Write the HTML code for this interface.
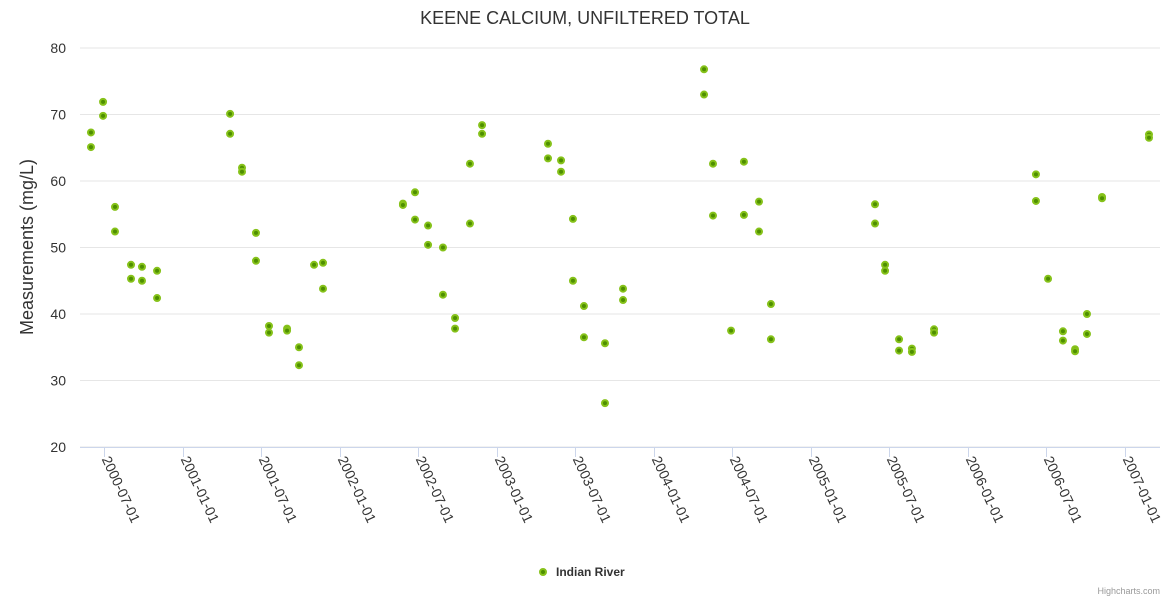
<!DOCTYPE html>
<html><head><meta charset="utf-8"><style>
body{margin:0;background:#fff;font-family:"Liberation Sans",sans-serif}
</style></head><body>
<svg id="chart" width="1170" height="600" xmlns="http://www.w3.org/2000/svg">
<text x="585" y="24" text-anchor="middle" font-size="18" fill="#333">KEENE CALCIUM, UNFILTERED TOTAL</text>
<text transform="translate(33,247) rotate(-90)" text-anchor="middle" font-size="18" fill="#333">Measurements (mg/L)</text>
<g id="grid"></g><g id="xaxis"></g><g id="pts"></g>
<g>
<circle cx="543" cy="572" r="3" fill="#4e8f00" stroke="#86c21a" stroke-width="2"/>
<text x="556" y="576" font-size="12" font-weight="bold" fill="#333">Indian River</text>
</g>
<text x="1160" y="594" text-anchor="end" font-size="9" fill="#999">Highcharts.com</text>
</svg>
<script>
const yTicks=[20,30,40,50,60,70,80];
const xTicks=[2000.5,2001,2001.5,2002,2002.5,2003,2003.5,2004,2004.5,2005,2005.5,2006,2006.5,2007];
const xTickLabels=["2000-07-01","2001-01-01","2001-07-01","2002-01-01","2002-07-01","2003-01-01","2003-07-01","2004-01-01","2004-07-01","2005-01-01","2005-07-01","2006-01-01","2006-07-01","2007-01-01"];
const dates=[2000.417,2000.417,2000.494,2000.494,2000.570,2000.570,2000.672,2000.672,2000.742,2000.742,2000.838,2000.838,
2001.303,2001.303,2001.379,2001.379,2001.468,2001.468,2001.551,2001.551,2001.666,2001.666,2001.742,2001.742,2001.838,2001.895,2001.895,
2002.404,2002.404,2002.481,2002.481,2002.564,2002.564,2002.659,2002.659,2002.736,2002.736,2002.831,2002.831,2002.908,2002.908,
2003.328,2003.328,2003.411,2003.411,2003.487,2003.487,2003.557,2003.557,2003.691,2003.691,2003.806,2003.806,
2004.322,2004.322,2004.379,2004.379,2004.494,2004.576,2004.576,2004.672,2004.672,2004.748,2004.748,
2005.411,2005.411,2005.475,2005.475,2005.564,2005.564,2005.646,2005.646,2005.787,2005.787,
2006.436,2006.436,2006.513,2006.608,2006.608,2006.685,2006.685,2006.761,2006.761,2006.857,2006.857,2007.156,2007.156];
const values=[67.3,65.1,71.9,69.8,56.1,52.4,47.4,45.3,47.1,45.0,46.5,42.4,
70.1,67.1,62.0,61.4,52.2,48.0,38.2,37.2,37.8,37.5,35.0,32.3,47.4,47.7,43.8,
56.6,56.4,58.3,54.2,53.3,50.4,50.0,42.9,39.4,37.8,62.6,53.6,68.4,67.1,
65.6,63.4,63.1,61.4,54.3,45.0,41.2,36.5,35.6,26.6,43.8,42.1,
76.8,73.0,62.6,54.8,37.5,62.9,54.9,56.9,52.4,41.5,36.2,
56.5,53.6,47.4,46.5,36.2,34.5,34.8,34.3,37.7,37.2,
61.0,57.0,45.3,37.4,36.0,34.7,34.4,40.0,37.0,57.6,57.4,67.0,66.5];
const L=80,R=1160,T=48,B=447;
const x=t=>104+(t-2000.5)*157;
const y=v=>B-(v-20)*(B-T)/60;
const NS="http://www.w3.org/2000/svg";
function mk(tag,attrs,parent){const e=document.createElementNS(NS,tag);for(const k in attrs)e.setAttribute(k,attrs[k]);parent.appendChild(e);return e;}
const grid=document.getElementById('grid'),xa=document.getElementById('xaxis'),pts=document.getElementById('pts');
yTicks.forEach(v=>{
 const l=mk('line',{x1:L,x2:R,y1:y(v),y2:y(v),stroke:'#e6e6e6'},grid);
 
 
 const t=mk('text',{x:66,y:y(v)+5,'text-anchor':'end','font-size':14,fill:'#333'},grid);
 
 
 t.textContent=v;
});
const ax=mk('line',{x1:L,x2:R,y1:B+0.5,y2:B+0.5,stroke:'#ccd6eb'},xa);


xTicks.forEach((t,i)=>{
 const px=Math.round(x(t))+0.5;
 const tk=mk('line',{x1:px,x2:px,y1:B,y2:B+10,stroke:'#ccd6eb'},xa);
 
 
 const lb=mk('text',{transform:`translate(${px-3},${B+12}) rotate(65)`,'font-size':14,fill:'#333'},xa);
 
 
 lb.textContent=xTickLabels[i];
});
dates.forEach((d,i)=>{
 const c=mk('circle',{cx:x(d),cy:y(values[i]),r:3,fill:'#4e8f00',stroke:'#86c21a','stroke-width':2},pts);
 
 
});
</script>
</body></html>
